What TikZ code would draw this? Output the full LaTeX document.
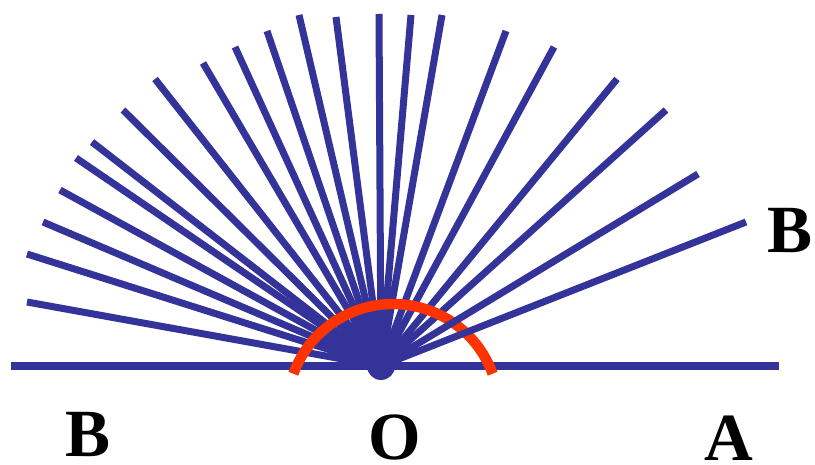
\documentclass[tikz,border=0pt]{standalone}
\usepackage{fontspec}
\setmainfont{Liberation Serif}
\usetikzlibrary{positioning}

\begin{document}
\begin{tikzpicture}[
        x=0.025cm,
        y=-0.025cm,
        ray/.style={line width=0.175cm, draw=fanblue},
        base/.style={line width=0.175cm, draw=fanblue},
        angarc/.style={line width=0.26cm, draw=arcred},
        lbl/.style={font=\fontsize{48}{50}\selectfont\bfseries, inner sep=0pt, anchor=base}
    ]
        \definecolor{fanblue}{HTML}{333399}
        \definecolor{arcred}{HTML}{FF3300}
        \useasboundingbox (0,0) rectangle (815,465);

        \coordinate (O) at (381,366);
        \coordinate (left) at (11,366);
        \coordinate (right) at (779,366);
        \coordinate (arcc) at (393,410);

        % fan of rays
        \foreach \px/\py in {27/302, 27/254, 43/222, 60/190, 76/158, 92/142,
                123/110, 155/79, 203/63, 235/47, 267/31, 299/15, 336/17,
                379/14, 411/15, 442/15, 506/31, 554/47, 617/79, 666/110}
            \draw[ray] (O) -- (\px,\py);

        \draw[base] (left) -- (right);
        \fill[fanblue] (O) circle (14);

        % angle arc (y axis points down here)
        \draw[angarc] ([shift={(-20:106)}]arcc) arc[start angle=-20, end angle=-160, radius=106];

        \draw[ray] (O) -- (698,174);
        \draw[ray] (O) -- (746,222);

        \node[lbl] (B1) at (88,456) {B};
        \node[lbl] (Olbl) at (395,459) {O};
        \node[lbl] (A) at (729,460) {A};
        \node[lbl] (B2) at (790,253) {B};
    \end{tikzpicture}
\end{document}
